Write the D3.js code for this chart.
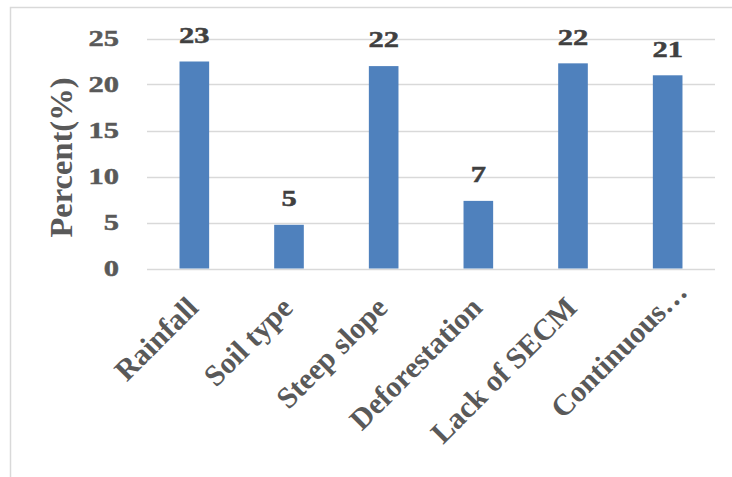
<!DOCTYPE html>
<html>
<head>
<meta charset="utf-8">
<script src="https://cdn.jsdelivr.net/npm/d3@7"></script>
<style>
  html, body { margin: 0; padding: 0; background: #fff; }
  svg { display: block; }
  text { font-family: "Liberation Serif", "Times New Roman", serif; font-weight: bold; }
</style>
</head>
<body>
<svg id="chart" width="732" height="477"></svg>
<script>
// Causes of soil erosion, share of respondents (%)
const categories = ["Rainfall", "Soil type", "Steep slope", "Deforestation", "Lack of SECM", "Continuous…"];
const percents = [22.5, 4.75, 22.0, 7.35, 22.3, 21.0];
const yTicks = [0, 5, 10, 15, 20, 25];

const svg = d3.select("#chart");
const W = 732, H = 477;
const plot = { left: 147, right: 715, top: 38.5, bottom: 268.5 };
const numStretch = 1.27;      // numerals are drawn wide
const numSize = 24, titleSize = 32.5, catSize = 30;

// chart area frame (open on right/bottom where it leaves the page)
svg.append("rect")
  .attr("x", 10.5).attr("y", 7.5)
  .attr("width", W).attr("height", H)
  .attr("fill", "none").attr("stroke", "#d9d9d9").attr("stroke-width", 1.5);

const x = d3.scaleBand()
  .domain(categories)
  .range([plot.left, plot.right])
  .paddingInner(0.687)
  .paddingOuter(0.3435);

const y = d3.scaleLinear()
  .domain([0, 25])
  .range([plot.bottom, plot.top]);

// horizontal gridlines
svg.append("g")
  .selectAll("line")
  .data(yTicks)
  .join("line")
  .attr("x1", plot.left).attr("x2", plot.right)
  .attr("y1", d => Math.round(y(d)) + 0.5).attr("y2", d => Math.round(y(d)) + 0.5)
  .attr("stroke", "#d9d9d9").attr("stroke-width", 1.4);

// y tick labels
svg.append("g")
  .selectAll("text")
  .data(yTicks)
  .join("text")
  .attr("transform", d => `translate(119,${y(d) + 7}) scale(${numStretch},1)`)
  .attr("text-anchor", "end")
  .attr("font-size", numSize)
  .attr("fill", "#595959")
  .attr("stroke", "#595959").attr("stroke-width", 0.5)
  .text(d => d);

// y axis title
svg.append("text")
  .attr("transform", `translate(71.5,157.5) rotate(-90)`)
  .attr("text-anchor", "middle")
  .attr("font-size", titleSize)
  .attr("fill", "#595959")
  .text("Percent(%)");

// bars
svg.append("g")
  .selectAll("rect")
  .data(percents)
  .join("rect")
  .attr("x", (d, i) => x(categories[i]))
  .attr("width", x.bandwidth())
  .attr("y", d => y(d))
  .attr("height", d => y(0) - y(d))
  .attr("fill", "#4f81bd");

// value labels
const fmt = d3.format(".0f");
svg.append("g")
  .selectAll("text")
  .data(percents)
  .join("text")
  .attr("transform", (d, i) =>
    `translate(${x(categories[i]) + x.bandwidth() / 2},${y(d) - 18.8}) scale(${numStretch},1)`)
  .attr("text-anchor", "middle")
  .attr("font-size", numSize)
  .attr("fill", "#404040")
  .attr("stroke", "#404040").attr("stroke-width", 0.5)
  .text(d => fmt(d));

// category labels, rotated; a truncated label lets its ellipsis run past the tick
svg.append("g")
  .selectAll("text")
  .data(categories)
  .join("text")
  .attr("transform", d =>
    `translate(${x(d) + x.bandwidth() / 2 + 5.5},${plot.bottom + 41}) rotate(-45)`)
  .attr("text-anchor", "end")
  .attr("dx", d => d.endsWith("…") ? "0.75em" : 0)
  .attr("font-size", catSize)
  .attr("fill", "#595959")
  .text(d => d);
</script>
</body>
</html>
